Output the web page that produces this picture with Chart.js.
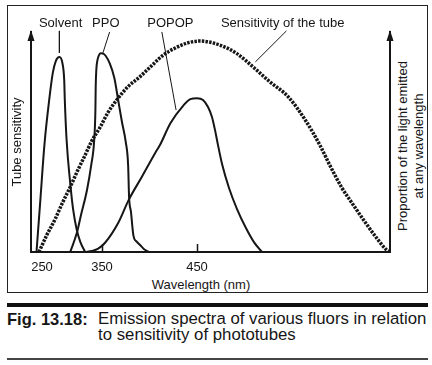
<!DOCTYPE html>
<html><head><meta charset="utf-8">
<script src="https://cdn.jsdelivr.net/npm/chart.js@4.4.1/dist/chart.umd.min.js"></script>
<style>
html,body{margin:0;padding:0;background:#fff;}
body{width:432px;height:365px;position:relative;overflow:hidden;font-family:"Liberation Sans",Arial,sans-serif;color:#161616;}
#frame{position:absolute;left:7px;top:5px;width:421px;height:288px;border:1.5px solid #222;box-sizing:border-box;}
#chart{position:absolute;left:0;top:0;}
#xtitle{position:absolute;left:0;width:402px;top:277px;text-align:center;font-size:13px;line-height:15px;}
#rtitle{position:absolute;left:311px;top:130px;width:200px;height:32px;line-height:16px;text-align:center;font-size:13px;transform:rotate(-90deg);white-space:nowrap;}
#bar{position:absolute;left:7px;top:303px;width:421px;height:4px;background:#111;}
#figlab{position:absolute;left:7px;top:310.5px;font-weight:bold;font-size:16.5px;line-height:16.5px;white-space:nowrap;}
#figtext{position:absolute;left:98px;top:310.5px;font-size:16.8px;line-height:16.5px;white-space:nowrap;}
#rule{position:absolute;left:7px;top:358px;width:421px;height:1.5px;background:#444;}
</style></head>
<body>
<div id="frame"></div>
<div id="xtitle">Wavelength (nm)</div>
<div id="rtitle">Proportion of the light emitted<br>at any wavelength</div>
<div id="bar"></div>
<div id="figlab">Fig. 13.18:</div>
<div id="figtext">Emission spectra of various fluors in relation<br>to sensitivity of phototubes</div>
<div id="rule"></div>
<canvas id="chart" width="432" height="300"></canvas>
<script>
// ---- data ----
const tickValues = [250, 350, 450];
const tickLabels = ['250', '350', '450'];

const solventNm  = [240, 247, 254, 262, 268, 273, 279, 284, 287, 288, 291, 297, 302, 308, 314, 322];
const solventVal = [0, 23.6, 48.6, 69.1, 81.4, 86.8, 88.6, 85.9, 78.2, 69.1, 50.9, 31.4, 19.1, 10, 4.5, 0];

const ppoNm  = [297, 308, 315, 325, 332, 337, 339, 339.5, 340.5, 342.5, 345, 348, 352, 354, 358, 363, 367, 371, 375, 377.5, 378.5, 380.5, 383, 387, 390, 394, 399.5];
const ppoVal = [0, 8.6, 16.8, 28.2, 39.5, 50.9, 64.5, 75, 82.7, 87.3, 89.5, 90.3, 90, 89.1, 85.9, 79.1, 69.1, 59.1, 50, 39.5, 25, 18.2, 7.7, 4.5, 3.2, 1.4, 0];

const popopNm  = [322, 333, 343, 353, 367, 378, 392, 406, 411, 422, 436, 443, 450, 456.4, 461.7, 465.9, 469.1, 472.3, 476.6, 484, 492.5, 502, 510.5, 519];
const popopVal = [0, 0.5, 1.4, 4.1, 13.2, 23.6, 34.2, 45, 48.6, 58.5, 66.8, 69.5, 69.9, 69.1, 65.9, 61.4, 55.5, 48.6, 40, 29.1, 19.5, 10.9, 4.5, 0];

const tubeNm  = [244.5, 258, 272, 284, 297, 309, 322, 333, 347, 356, 365.5, 377, 390, 403, 414.5, 427, 439, 453, 474, 492, 512, 527.5, 547, 565, 581, 591, 604, 616, 628.5, 640, 651.5, 655];
const tubeVal = [0, 7.7, 15, 22.3, 29.5, 36.8, 44.1, 50.5, 56.8, 63.2, 69.1, 75, 79.7, 85, 89.5, 92.7, 94.9, 95.9, 94.1, 90.3, 83.2, 77.3, 70.5, 60, 48.2, 39.5, 29.1, 21.4, 13.6, 6.8, 0.9, 0];

const labelTexts = ['Solvent', 'PPO', 'POPOP', 'Sensitivity of the tube'];
const labelNm = [281, 354, 422, 541];
const labelVal = 102.5;

const leaderNmStart  = [279, 358, 413, 545];
const leaderValStart = [100.5, 100, 100, 100.5];
const leaderNmEnd    = [279, 351, 428, 512];
const leaderValEnd   = [90.5, 90.5, 64.5, 86.4];

// ---- schematic (non-linear) wavelength axis ----
const warpNm = [230, 250, 350, 450, 655];
const warpFrac = [0, 11/359, 71/359, 166/359, 1];
function interp(v, xs, ys) {
  for (let i = 1; i < xs.length; i++) {
    if (v <= xs[i] || i === xs.length - 1) {
      return ys[i-1] + (v - xs[i-1]) * (ys[i] - ys[i-1]) / (xs[i] - xs[i-1]);
    }
  }
}
class WarpScale extends Chart.LinearScale {
  getPixelForValue(value) {
    if (value === null || value === undefined || isNaN(value)) return NaN;
    return this.getPixelForDecimal(interp(value, warpNm, warpFrac));
  }
  getValueForPixel(pixel) {
    return interp(this.getDecimalForPixel(pixel), warpFrac, warpNm);
  }
}
WarpScale.id = 'warp';
Chart.register(WarpScale);

const ink = '#161616';
const FONT = 'Liberation Sans';
const pts = (xs, ys) => xs.map((x, i) => ({x, y: ys[i]}));
const curve = (data, extra) => Object.assign({
  data, borderColor: ink, borderWidth: 2, pointRadius: 0, fill: false,
  cubicInterpolationMode: 'monotone'
}, extra || {});

const datasets = [
  curve(pts(tubeNm, tubeVal), {borderWidth: 3.5, borderDash: [2.5, 1.2], borderCapStyle: 'butt'}),
  curve(pts(solventNm, solventVal)),
  curve(pts(ppoNm, ppoVal)),
  curve(pts(popopNm, popopVal))
];
for (let i = 0; i < leaderNmStart.length; i++) {
  datasets.push({
    data: [{x: leaderNmStart[i], y: leaderValStart[i]}, {x: leaderNmEnd[i], y: leaderValEnd[i]}],
    borderColor: ink, borderWidth: 1, pointRadius: 0, tension: 0, clip: false, fill: false
  });
}

const decor = {
  id: 'decor',
  afterDraw(chart) {
    const {ctx, chartArea: a, scales: {x, y}} = chart;
    ctx.save();
    ctx.fillStyle = ink;
    [a.left, a.right].forEach(px => {
      ctx.beginPath();
      ctx.moveTo(px, a.top - 2);
      ctx.lineTo(px - 3.5, a.top + 9);
      ctx.lineTo(px + 3.5, a.top + 9);
      ctx.closePath();
      ctx.fill();
    });
    ctx.font = '13px "' + FONT + '"';
    ctx.textAlign = 'center';
    ctx.textBaseline = 'alphabetic';
    labelTexts.forEach((t, i) => ctx.fillText(t, x.getPixelForValue(labelNm[i]), y.getPixelForValue(labelVal)));
    ctx.restore();
  }
};

new Chart(document.getElementById('chart'), {
  type: 'line',
  data: {datasets},
  plugins: [decor],
  options: {
    responsive: false,
    animation: false,
    devicePixelRatio: 1,
    layout: {padding: {top: 32, left: 0, right: 0, bottom: 0}},
    plugins: {legend: {display: false}, tooltip: {enabled: false}},
    scales: {
      x: {
        type: 'warp', position: 'bottom', min: 230, max: 655,
        afterBuildTicks: s => { s.ticks = tickValues.map(v => ({value: v})); },
        afterFit: s => { s.height = 48; },
        ticks: {autoSkip: false, maxRotation: 0, padding: 16, color: ink,
                font: {family: FONT, size: 13}, callback: (v, i) => tickLabels[i]},
        grid: {display: true, drawOnChartArea: false, drawTicks: true, tickLength: -8, tickWidth: 1.5,
               tickColor: c => (c.tick && c.tick.value === 250) ? 'rgba(0,0,0,0)' : ink},
        border: {display: true, color: ink, width: 2}
      },
      y: {
        position: 'left', min: 0, max: 100,
        afterFit: s => { s.width = 31; },
        ticks: {display: false}, grid: {display: false},
        border: {display: true, color: ink, width: 2},
        title: {display: true, text: 'Tube sensitivity', color: ink,
                font: {family: FONT, size: 13}, padding: {top: 10, bottom: 0}}
      },
      y2: {
        position: 'right', min: 0, max: 100,
        afterFit: s => { s.width = 42; },
        ticks: {display: false}, grid: {display: false},
        border: {display: true, color: ink, width: 2}
      }
    }
  }
});
</script>
</body></html>
